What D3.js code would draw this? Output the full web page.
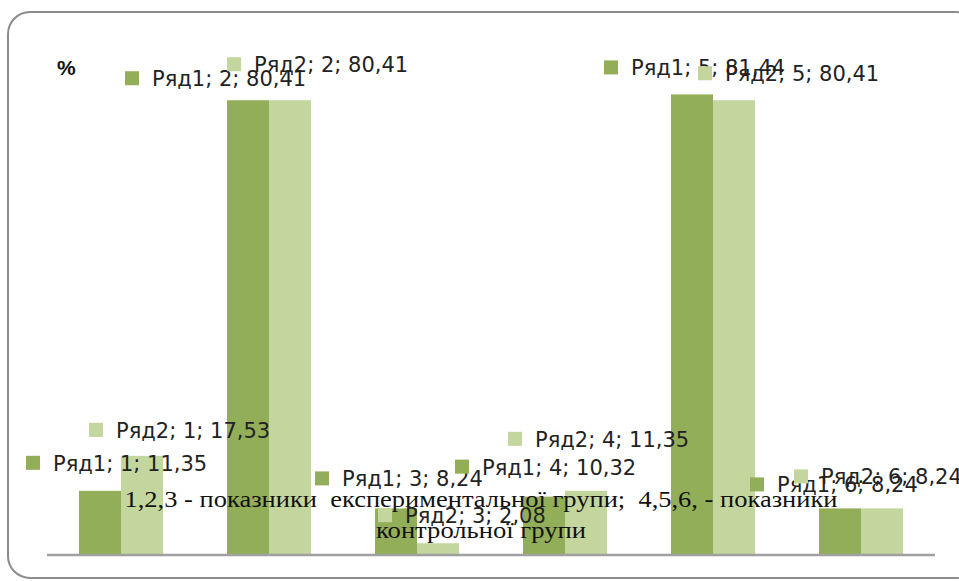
<!DOCTYPE html>
<html><head><meta charset="utf-8">
<script src="https://cdn.jsdelivr.net/npm/d3@7"></script>
<style>
html,body{margin:0;padding:0;background:#fff;}
svg{display:block;}
</style></head>
<body>
<script>
// ---- data ----
const categories = ["1", "2", "3", "4", "5", "6"];
const seriesNames = ["Ряд1", "Ряд2"];
const row1 = [11.35, 80.41, 8.24, 10.32, 81.44, 8.24];
const row2 = [17.53, 80.41, 2.08, 11.35, 80.41, 8.24];
const footnoteLines = ["1,2,3 - показники  експериментальної групи;  4,5,6, - показники", "контрольної групи"];
const yUnit = "%";

// ---- layout (label offsets relative to each bar's left/top) ----
const labelOffsets = [
  [[-53, -28], [-102, -22], [-60, -30], [-68, -30], [-67, -27], [-69, -24]],
  [[-32, -26], [-42, -36], [-39, -28], [-57, -52], [-15, -27], [-67, -32]]
];
const footnoteWidths = [713, 210];
const colors = ["#93AE58", "#C3D69D"];

const W = 959, H = 581;
const svg = d3.select("body").append("svg").attr("width", W).attr("height", H);

// frame
svg.append("rect").attr("x", 8).attr("y", 12).attr("width", 970).attr("height", 566)
  .attr("rx", 22).attr("fill", "#fff").attr("stroke", "#8C8C8C").attr("stroke-width", 2);

const x = d3.scaleBand().domain(categories).range([47, 935]).padding(0);
const y = d3.scaleLinear().domain([0, 90]).range([555, 46]);
const groupFrac = 84 / 148;
const x1 = d3.scaleBand().domain(seriesNames)
  .range([0, x.bandwidth() * groupFrac]).padding(0);
const groupOffset = (x.bandwidth() - x.bandwidth() * groupFrac) / 2;

const series = [row1, row2];
const barData = [];
series.forEach((vals, s) => vals.forEach((v, i) => barData.push({s, i, v})));

svg.append("g").selectAll("rect").data(barData).join("rect")
  .attr("x", d => x(categories[d.i]) + groupOffset + x1(seriesNames[d.s]))
  .attr("y", d => y(d.v))
  .attr("width", x1.bandwidth())
  .attr("height", d => y(0) - y(d.v))
  .attr("fill", d => colors[d.s]);

// axis baseline
const xAxis = d3.axisBottom(x).tickSize(0).tickFormat("");
const ax = svg.append("g").attr("transform", `translate(0,${y(0)})`).call(xAxis);
ax.select(".domain").attr("stroke", "#A0A0A0").attr("stroke-width", 2.5).attr("d", `M47,0H935`);

// unit label
svg.append("text").attr("x", 57).attr("y", 75).text(yUnit)
  .attr("font-family", "Liberation Sans, Arial, sans-serif").attr("font-weight", "bold")
  .attr("font-size", 21).attr("fill", "#111");

// footnote
const fn = svg.append("g");
footnoteLines.forEach((t, k) => {
  fn.append("text").attr("x", 481).attr("y", 507 + k * 31).attr("text-anchor", "middle")
    .style("white-space", "pre")
    .attr("textLength", footnoteWidths[k]).attr("lengthAdjust", "spacingAndGlyphs")
    .attr("font-family", "Liberation Serif, Times New Roman, serif")
    .attr("font-size", 23.5).attr("fill", "#111").text(t);
});

// data labels
const fmt = v => String(v.toFixed(2)).replace(".", ",");
const lab = svg.append("g");
barData.forEach(d => {
  const bx = x(categories[d.i]) + groupOffset + x1(seriesNames[d.s]);
  const by = y(d.v);
  const [dx, dy] = labelOffsets[d.s][d.i];
  const sx = bx + dx, cy = by + dy;
  lab.append("rect").attr("x", sx).attr("y", cy - 7).attr("width", 14).attr("height", 14)
    .attr("fill", colors[d.s]);
  lab.append("text").attr("x", sx + 27).attr("y", cy + 8)
    .attr("font-family", "DejaVu Sans, sans-serif").attr("font-size", 21)
    .attr("fill", "#222")
    .text(`${seriesNames[d.s]}; ${categories[d.i]}; ${fmt(d.v)}`);
});
</script>
</body></html>
